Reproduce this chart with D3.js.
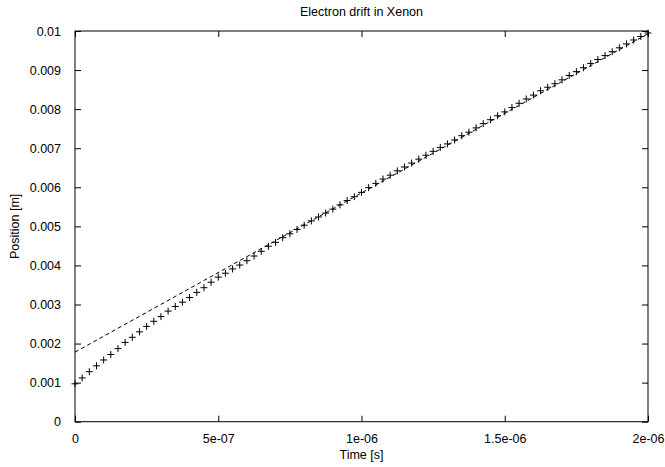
<!DOCTYPE html>
<html>
<head>
<meta charset="utf-8">
<script src="https://cdn.jsdelivr.net/npm/d3@7"></script>
<style>
  body { margin: 0; background: #fff; }
  svg text { font-family: "Liberation Sans", Arial, sans-serif; font-size: 12.5px; fill: #000; }
</style>
</head>
<body>
<div class="chart"></div>
<script>
// drift time in ns (sampled every 25 ns)
const time_ns = [
  0, 25, 50, 75, 100, 125, 150, 175, 200, 225,
  250, 275, 300, 325, 350, 375, 400, 425, 450, 475,
  500, 525, 550, 575, 600, 625, 650, 675, 700, 725,
  750, 775, 800, 825, 850, 875, 900, 925, 950, 975,
  1000, 1025, 1050, 1075, 1100, 1125, 1150, 1175, 1200, 1225,
  1250, 1275, 1300, 1325, 1350, 1375, 1400, 1425, 1450, 1475,
  1500, 1525, 1550, 1575, 1600, 1625, 1650, 1675, 1700, 1725,
  1750, 1775, 1800, 1825, 1850, 1875, 1900, 1925, 1950, 1975,
  2000
];
// electron position [m]
const position = [
  0.00097, 0.00112, 0.00128, 0.00143, 0.00158, 0.00172, 0.00187, 0.00203, 0.00216, 0.00230,
  0.00244, 0.00257, 0.00269, 0.00283, 0.00295, 0.00306, 0.00318, 0.00331, 0.00343, 0.00357,
  0.00370, 0.00380, 0.00391, 0.00401, 0.00412, 0.00424, 0.00436, 0.00449, 0.00459, 0.00471,
  0.00481, 0.00492, 0.00503, 0.00514, 0.00524, 0.00534, 0.00544, 0.00555, 0.00566, 0.00576,
  0.00587, 0.00599, 0.00610, 0.00621, 0.00631, 0.00642, 0.00652, 0.00662, 0.00672, 0.00682,
  0.00692, 0.00702, 0.00711, 0.00721, 0.00732, 0.00741, 0.00752, 0.00763, 0.00773, 0.00783,
  0.00793, 0.00804, 0.00815, 0.00826, 0.00836, 0.00847, 0.00856, 0.00865, 0.00875, 0.00886,
  0.00896, 0.00906, 0.00917, 0.00927, 0.00937, 0.00947, 0.00957, 0.00967, 0.00977, 0.00986,
  0.00995
];
// linear fit (dashed): endpoints
const fit_t = [0, 2e-6];
const fit_y = [0.00178, 0.00993];

const x_ticks = [0, 5e-7, 1e-6, 1.5e-6, 2e-6];
const x_tick_labels = ["0", "5e-07", "1e-06", "1.5e-06", "2e-06"];
const y_ticks = [0, 0.001, 0.002, 0.003, 0.004, 0.005, 0.006, 0.007, 0.008, 0.009, 0.01];
const y_tick_labels = ["0", "0.001", "0.002", "0.003", "0.004", "0.005", "0.006", "0.007", "0.008", "0.009", "0.01"];

const svg_width = 665;
const svg_height = 467;
const margin = {top: 31, right: 17, bottom: 45.3, left: 75};
const chart_width = svg_width - margin.left - margin.right;
const chart_height = svg_height - margin.top - margin.bottom;

const svg = d3.select(".chart").append("svg")
  .attr("width", svg_width).attr("height", svg_height);
const g = svg.append("g").attr("transform", `translate(${margin.left},${margin.top})`);

const xScale = d3.scaleLinear([0, 2e-6], [0, chart_width]);
const yScale = d3.scaleLinear([0, 0.01], [chart_height, 0]);

// ticks on all four sides, pointing inward
const tickLen = 6;
const axisStyle = sel => {
  sel.select(".domain").remove();
  sel.selectAll("line").attr("stroke", "#000").attr("stroke-width", 1);
};

const xBottom = g.append("g").attr("transform", `translate(0,${chart_height})`)
  .call(d3.axisBottom(xScale).tickValues(x_ticks)
    .tickFormat((d, i) => x_tick_labels[i]).tickSizeInner(-tickLen).tickPadding(12));
axisStyle(xBottom);
xBottom.selectAll("text").attr("font-size", null);

const xTop = g.append("g")
  .call(d3.axisTop(xScale).tickValues(x_ticks).tickFormat("").tickSizeInner(-tickLen));
axisStyle(xTop);

const yLeft = g.append("g")
  .call(d3.axisLeft(yScale).tickValues(y_ticks)
    .tickFormat((d, i) => y_tick_labels[i]).tickSizeInner(-tickLen).tickPadding(14));
axisStyle(yLeft);

const yRight = g.append("g").attr("transform", `translate(${chart_width},0)`)
  .call(d3.axisRight(yScale).tickValues(y_ticks).tickFormat("").tickSizeInner(-tickLen));
axisStyle(yRight);

svg.selectAll(".tick text").attr("font-size", null).attr("font-family", null);

// frame
g.append("rect")
  .attr("x", 0).attr("y", 0)
  .attr("width", chart_width).attr("height", chart_height)
  .attr("fill", "none").attr("stroke", "#000").attr("stroke-width", 1);

// fitted line
g.append("line")
  .attr("x1", xScale(fit_t[0])).attr("y1", yScale(fit_y[0]))
  .attr("x2", xScale(fit_t[1])).attr("y2", yScale(fit_y[1]))
  .attr("stroke", "#000").attr("stroke-width", 1)
  .attr("stroke-dasharray", "4,3");

// data points as "+"
const pts = time_ns.map((t, i) => ({t: t * 1e-9, y: position[i]}));
const cs = 3.5;
g.selectAll(".pt").data(pts).enter().append("path")
  .attr("class", "pt")
  .attr("d", d => {
    const px = xScale(d.t), py = yScale(d.y);
    return `M${px - cs},${py}H${px + cs}M${px},${py - cs}V${py + cs}`;
  })
  .attr("stroke", "#000").attr("stroke-width", 1).attr("fill", "none");

// title and axis labels
svg.append("text")
  .attr("x", margin.left + chart_width / 2).attr("y", 16)
  .style("text-anchor", "middle")
  .text("Electron drift in Xenon");

svg.append("text")
  .attr("x", margin.left + chart_width / 2).attr("y", 459)
  .style("text-anchor", "middle")
  .text("Time [s]");

svg.append("text")
  .attr("transform", `translate(19,${margin.top + chart_height / 2}) rotate(-90)`)
  .style("text-anchor", "middle")
  .text("Position [m]");
</script>
</body>
</html>
